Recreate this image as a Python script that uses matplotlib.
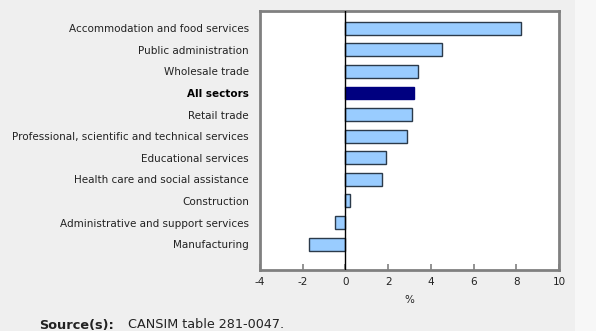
import numpy as np
import matplotlib.pyplot as plt
from matplotlib.patches import Rectangle

# sectors, top to bottom
sectors = ['Accommodation and food services', 'Public administration', 'Wholesale trade',
           'All sectors', 'Retail trade', 'Professional, scientific and technical services',
           'Educational services', 'Health care and social assistance', 'Construction',
           'Administrative and support services', 'Manufacturing']
change = [8.2, 4.5, 3.4, 3.2, 3.1, 2.9, 1.9, 1.7, 0.2, -0.5, -1.7]
x_ticks = [-4, -2, 0, 2, 4, 6, 8, 10]

W, H = 596, 331
fig = plt.figure(figsize=(W / 100, H / 100), dpi=100)
fig.patch.set_facecolor('#efefef')
# lighter strip on the right edge
fig.patches.append(Rectangle((575 / W, 0), 1, 1, transform=fig.transFigure,
                             facecolor='#f7f7f7', edgecolor='none'))

ax = fig.add_axes([260 / W, 1 - 270 / H, (559 - 260) / W, (270 - 11) / H])
ax.set_facecolor('white')

pos = np.arange(len(sectors))
colors = ['#000080' if s == 'All sectors' else '#99ccff' for s in sectors]
edges = ['#000080' if s == 'All sectors' else '#2b3a4a' for s in sectors]
ax.barh(pos, change, height=0.6, color=colors, edgecolor=edges, linewidth=1.0, zorder=2)
ax.axvline(0, color='black', linewidth=1.0, zorder=3)

ax.set_xlim(-4, 10)
ax.set_ylim(11.2, -0.8)
ax.set_xticks(x_ticks)
ax.set_xticklabels([str(t) for t in x_ticks], fontsize=7.5, color='#222222')
ax.tick_params(axis='x', direction='in', length=4, width=1.2, color='#808080', pad=5)
ax.set_yticks(pos)
ax.set_yticklabels(sectors, fontsize=7.5, color='#222222')
ax.tick_params(axis='y', length=0, pad=8)
ax.get_yticklabels()[3].set_fontweight('bold')
ax.get_yticklabels()[3].set_color('black')
ax.set_xlabel('%', fontsize=7.5, color='#222222', labelpad=6)

for sp in ax.spines.values():
    sp.set_color('#808080')
    sp.set_linewidth(2)

fig.text(39 / W, 1 - 325 / H, 'Source(s):', fontsize=9.3, fontweight='bold',
         color='#222222', va='center')
fig.text(128 / W, 1 - 325 / H, 'CANSIM table 281-0047.', fontsize=9.2,
         color='#222222', va='center')

fig.savefig('out.png', dpi=100, facecolor=fig.get_facecolor())
